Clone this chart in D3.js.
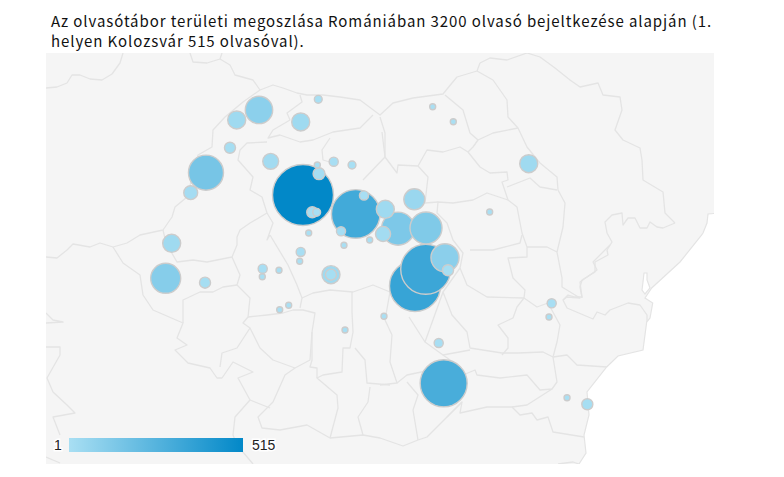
<!DOCTYPE html>
<html><head><meta charset="utf-8">
<script src="https://cdn.jsdelivr.net/npm/d3@7/dist/d3.min.js"></script>
<style>html,body{margin:0;background:#fff}svg{display:block}</style></head><body>
<svg id="c" width="784" height="477"></svg>
<script>
const titleLines = ["Az olvasótábor területi megoszlása Romániában 3200 olvasó bejeltkezése alapján (1.","helyen Kolozsvár 515 olvasóval)."];
const legendMin = 1, legendMax = 515;
// reader locations, largest first
const lon = [23.6,25.565,25.753,24.525,26.068,21.898,25.267,25.758,21.191,26.091,22.828,25.553,22.437,23.56,25.044,21.296,27.56,24.091,24.091,23.033,25.004,21.63,23.881,23.763,23.84,22.319,21.881,26.144,28.588,24.139,24.46,24.67,24.267,23.56,22.893,25.981,27.963,23.868,23.7,23.542,24.319,24.77,23.851,22.886,23.179,23.191,23.349,25.021,24.337,27.916,28.232,25.875,26.237,26.875];
const lat = [46.77,45.633,45.841,46.533,44.416,47.049,46.349,46.358,45.729,45.986,47.833,46.716,47.708,47.683,46.591,46.166,47.161,45.774,45.774,47.191,46.283,46.799,47.036,46.554,46.554,47.361,45.674,45.829,44.154,47.186,47.145,46.764,46.316,46.058,45.849,44.92,45.416,47.966,46.295,45.941,46.141,46.208,47.145,45.749,45.829,45.336,45.391,45.254,45.083,45.245,44.236,47.874,47.686,46.558];
const readers = [515,352,337,317,295,155,136,127,110,94,89,48,33,33,33,33,33,33,9,24,21,17,11,9,3,9,9,9,9,5,3,5,5,5,5,5,5,3,1,1,1,1,1,1,1,1,1,1,1,1,1,1,1,1];
// base map outlines, in base-map grid units
const seaOutline = [[674,160],[662,161],[661,170],[657,180],[655.7,182],[634,209],[605.7,235],[599,245],[606.7,250],[604,265],[600.7,269],[597,297],[572,303],[560.7,314],[541,339],[543,362],[538,382],[540,400],[533,411],[526,418],[674,418]];
const lagoon = [[598,220],[601,220],[601,227],[604,235],[599,241],[596,237],[597,229]];
const borders = [
[[0,35],[11,34],[21,30],[26,22],[34,22],[44,26],[56,27],[66,21],[74,10],[77,0]],
[[144,0],[147,9],[161,10],[174,6],[176,0]],
[[174,6],[184,12],[189,22],[207,27],[214,37],[227,32],[237,35],[251,40],[261,42],[277,42],[294,44],[314,47],[334,62],[347,50],[367,45],[397,41],[406,30],[411,24],[431,18],[434,10],[444,5],[461,7],[481,0],[494,4],[509,15],[524,27],[534,34],[552,30],[557,42],[574,44],[576,57],[569,77],[577,87],[594,95],[596,107],[597,127],[617,139],[619,160],[629,170]],
[[629,170],[617,175],[611,174],[604,169],[601,175],[594,175],[589,165],[582,165],[577,172],[576,160],[566,162],[559,169],[561,180],[566,189],[561,197],[562,202],[549,209],[549,219],[536,227],[534,234],[536,244],[529,244],[522,242],[517,247],[521,255],[547,266],[551,259],[559,262],[564,257],[582,250],[594,252],[601,262],[601,269]],
[[214,37],[197,49],[179,64],[167,77],[166,94],[152,102],[141,144],[129,154],[126,164],[117,177],[94,182],[81,190],[67,194],[54,190],[44,194],[27,191],[21,197],[11,205],[0,204]],
[[67,194],[77,210],[94,222],[97,242],[107,257],[137,270],[131,285],[141,292],[129,297],[142,310],[164,315],[171,325],[176,325],[187,309],[207,319],[192,325],[204,347],[189,364],[187,382],[191,392],[207,411]],
[[117,177],[120,190],[131,209],[147,207],[161,209],[186,204],[191,192],[191,184],[194,177],[204,170],[221,160],[216,144],[204,137],[207,124],[192,107],[194,97],[201,90],[221,89]],
[[191,232],[177,234],[167,239],[154,239],[137,247],[137,270]],
[[186,204],[194,222],[191,232],[204,245],[202,264],[197,270],[204,275],[191,295],[176,300],[174,314]],
[[204,275],[214,295],[227,307],[249,315],[264,307],[266,279],[269,260],[257,257],[247,257],[237,260],[221,262],[202,264]],
[[224,182],[242,212],[251,232],[256,245],[254,255]],
[[256,245],[267,240],[284,237],[307,239],[327,232],[344,239],[362,236]],
[[306,239],[306,259],[307,279],[304,295],[297,295],[296,319],[277,322],[271,325],[291,342],[292,355],[284,385]],
[[266,279],[266,307],[264,314],[271,315],[271,325]],
[[309,295],[319,307],[321,330],[344,332]],
[[324,334],[322,349],[312,364],[317,382]],
[[249,315],[239,322],[227,349],[212,364],[216,375],[234,377],[261,372],[284,385],[317,382],[334,385],[357,393],[372,387],[381,384],[401,364],[416,349],[414,360],[441,354],[466,354],[474,362],[486,360],[491,367],[502,364],[507,379],[538,384]],
[[204,347],[224,355]],
[[254,42],[256,49],[241,60],[244,67],[227,77],[222,85],[234,82],[254,89],[267,87],[287,79],[314,75],[327,62]],
[[221,160],[227,170],[221,187],[224,182]],
[[284,85],[276,97],[277,107],[287,110]],
[[336,79],[339,104],[317,127]],
[[334,64],[339,80],[339,104],[351,120],[352,112],[372,113],[381,97],[397,99],[414,94],[422,99],[427,94],[432,87],[424,80],[417,57],[399,42]],
[[431,18],[447,27],[461,47],[462,64],[472,75],[481,94],[494,110],[511,124],[512,137],[519,150],[517,174],[511,199],[516,225],[516,234],[534,245],[521,244],[517,247]],
[[432,87],[447,80],[472,75]],
[[422,99],[434,114],[444,120],[461,119],[462,127],[456,129],[462,147],[471,154],[476,180],[481,194],[481,204],[462,205],[467,225],[479,237],[478,245],[491,254],[502,250],[514,272],[511,289],[507,304]],
[[461,134],[484,125],[494,134],[511,137]],
[[462,147],[441,140],[427,147],[407,150],[392,149],[391,160],[401,170],[407,187],[417,200],[414,215],[421,232],[441,244],[478,245],[471,254],[467,265],[452,272],[462,285],[462,295],[456,302]],
[[372,113],[382,124],[379,150],[392,149]],
[[424,197],[447,197],[474,190],[476,182]],
[[481,194],[501,194],[511,199]],
[[564,192],[547,209],[551,217],[534,229],[536,245]],
[[414,215],[397,239],[406,262],[421,279],[424,295],[456,300],[472,300],[497,299],[507,304],[521,302],[531,312],[561,314]],
[[397,239],[379,289],[397,302],[424,297]],
[[379,289],[363,264]],
[[507,304],[511,329],[506,336],[494,337],[481,322],[454,325],[431,322],[429,317],[417,322],[407,309],[397,302]],
[[506,336],[481,352],[466,354]],
[[416,349],[401,364]],
[[367,357],[372,387]],[[361,329],[372,342],[367,357]],
[[351,330],[361,322],[380,318]],
[[334,332],[351,330],[344,309],[346,282],[339,267],[344,239]],
[[0,260],[7,267],[17,269],[0,270]],
[[0,294],[14,294],[14,302],[1,325],[7,339],[21,352],[29,360],[7,364],[14,382]],
[[0,404],[14,410]],
[[512,411],[527,409],[533,411]]
];

const svg = d3.select("#c");
const mapX = d3.scaleLinear().domain([0,668]).range([46,714]);
const mapY = d3.scaleLinear().domain([0,411]).range([53,464]);
const lonS = d3.scaleLinear().domain([20,30]).range([97.8,667.8]);
const latS = d3.scaleLinear().domain([49,43]).range([16.6,496.6]);
const rS = d3.scaleSqrt().domain([legendMin,legendMax]).range([3,30.5]);
const lightC = "#a9dff3", darkC = "#0288c8";
const colS = d3.scaleLinear().domain([legendMin,legendMax]).range([lightC,darkC]);
const line = d3.line().x(d=>mapX(d[0])).y(d=>mapY(d[1]));

svg.selectAll("text.t").data(titleLines).join("text").attr("class","t")
  .attr("x",51).attr("y",(d,i)=>27+i*20)
  .style("font-family","'Noto Sans CJK JP'").style("font-size","15px").style("letter-spacing","0.91px").style("fill","#111").text(d=>d);

svg.append("clipPath").attr("id","mc").append("rect").attr("x",46).attr("y",53).attr("width",668).attr("height",411);
const g = svg.append("g").attr("clip-path","url(#mc)");
g.append("rect").attr("x",46).attr("y",53).attr("width",668).attr("height",411).attr("fill","#f5f5f5");
g.selectAll("path.b").data(borders).join("path").attr("class","b").attr("d",line)
  .attr("fill","none").attr("stroke","#e4e4e4").attr("stroke-width",1.3).attr("stroke-linejoin","round");
g.selectAll("path.s").data([seaOutline,lagoon]).join("path").attr("class","s").attr("d",d=>line(d)+"Z")
  .attr("fill","#fff").attr("stroke","#e4e4e4").attr("stroke-width",1.2);

svg.append("g").selectAll("circle").data(readers).join("circle")
  .attr("cx",(d,i)=>lonS(lon[i])).attr("cy",(d,i)=>latS(lat[i])).attr("r",d=>rS(d))
  .attr("fill",d=>colS(d)).attr("stroke","#ccc").attr("stroke-width",1.4);

const grad = svg.append("linearGradient").attr("id","lg");
grad.append("stop").attr("offset",0).attr("stop-color",lightC);
grad.append("stop").attr("offset",1).attr("stop-color",darkC);
svg.append("rect").attr("x",69).attr("y",438).attr("width",174).attr("height",14).attr("fill","url(#lg)");
svg.selectAll("text.l").data([[legendMin,54],[legendMax,252]]).join("text").attr("class","l")
  .attr("x",d=>d[1]).attr("y",450).text(d=>d[0])
  .style("font-family","'Liberation Sans'").style("font-size","14px").style("fill","#222")
  .style("paint-order","stroke").style("stroke","#fff").style("stroke-width",3);
</script></body></html>
